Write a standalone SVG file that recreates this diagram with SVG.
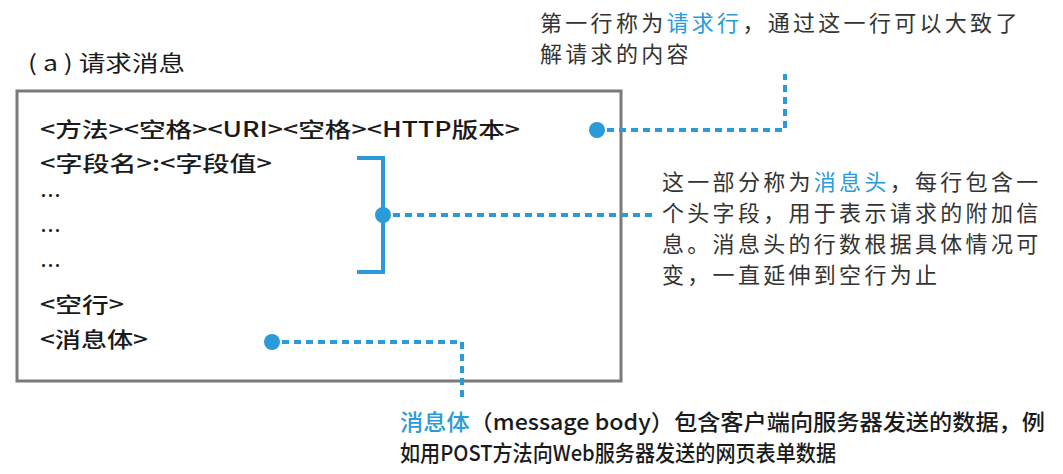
<svg xmlns="http://www.w3.org/2000/svg" width="1063" height="474" viewBox="0 0 1063 474">
<style>
.t{font-family:"Noto Sans CJK SC","Noto Sans",sans-serif;fill:#1a1a1a}
.box{font-size:21px;font-weight:500}
.note{font-size:22px;fill:#333;letter-spacing:3.3px}
.bot{font-size:22px;font-weight:500;fill:#1a1a1a}
.b{fill:#2b9ad8}
.dash{fill:none;stroke:#2b9ad8;stroke-width:4;stroke-dasharray:7 5}
.solid{fill:none;stroke:#2b9ad8;stroke-width:4}
.dot{fill:#2b9ad8}
</style>
<rect width="1063" height="474" fill="#fff"/>
<g id="title">
<text class="t" x="28" y="71" font-size="22" textLength="157" lengthAdjust="spacingAndGlyphs">( a ) 请求消息</text>
</g>
<g id="message-box">
<rect x="17" y="91" width="604" height="290" fill="#fff" stroke="#7a7a7a" stroke-width="3"/>
<text class="t box" x="40" y="137" textLength="480" lengthAdjust="spacingAndGlyphs">&lt;方法&gt;&lt;空格&gt;&lt;URI&gt;&lt;空格&gt;&lt;HTTP版本&gt;</text>
<text class="t box" x="40" y="171" textLength="232" lengthAdjust="spacingAndGlyphs">&lt;字段名&gt;:&lt;字段值&gt;</text>
<text class="t box" x="40" y="203">…</text>
<text class="t box" x="40" y="238">…</text>
<text class="t box" x="40" y="273">…</text>
<text class="t box" x="40" y="312" textLength="84" lengthAdjust="spacingAndGlyphs">&lt;空行&gt;</text>
<text class="t box" x="40" y="347" textLength="108" lengthAdjust="spacingAndGlyphs">&lt;消息体&gt;</text>
</g>
<g id="note-request-line">
<text class="t note" x="540" y="31">第一行称为<tspan class="b">请求行</tspan>，通过这一行可以大致了</text>
<text class="t note" x="540" y="62">解请求的内容</text>
</g>
<g id="note-header">
<text class="t note" x="662" y="190">这一部分称为<tspan class="b">消息头</tspan>，每行包含一</text>
<text class="t note" x="662" y="221">个头字段，用于表示请求的附加信</text>
<text class="t note" x="662" y="252">息。消息头的行数根据具体情况可</text>
<text class="t note" x="662" y="283">变，一直延伸到空行为止</text>
</g>
<g id="note-body">
<text class="t bot" x="400" y="430" textLength="645" lengthAdjust="spacingAndGlyphs"><tspan class="b">消息体</tspan>（message body）包含客户端向服务器发送的数据，例</text>
<text class="t bot" x="400" y="461" textLength="436" lengthAdjust="spacingAndGlyphs">如用POST方法向Web服务器发送的网页表单数据</text>
</g>
<g id="connectors">
<path class="solid" d="M357 158 H383 V272 H357"/>
<circle class="dot" cx="383" cy="215" r="8"/>
<path class="dash" d="M393 215 H655"/>
<circle class="dot" cx="597" cy="130" r="8"/>
<path class="dash" d="M607 130 H785 V74"/>
<circle class="dot" cx="272" cy="342" r="8"/>
<path class="dash" d="M282 342 H462 V398"/>
</g>
</svg>
